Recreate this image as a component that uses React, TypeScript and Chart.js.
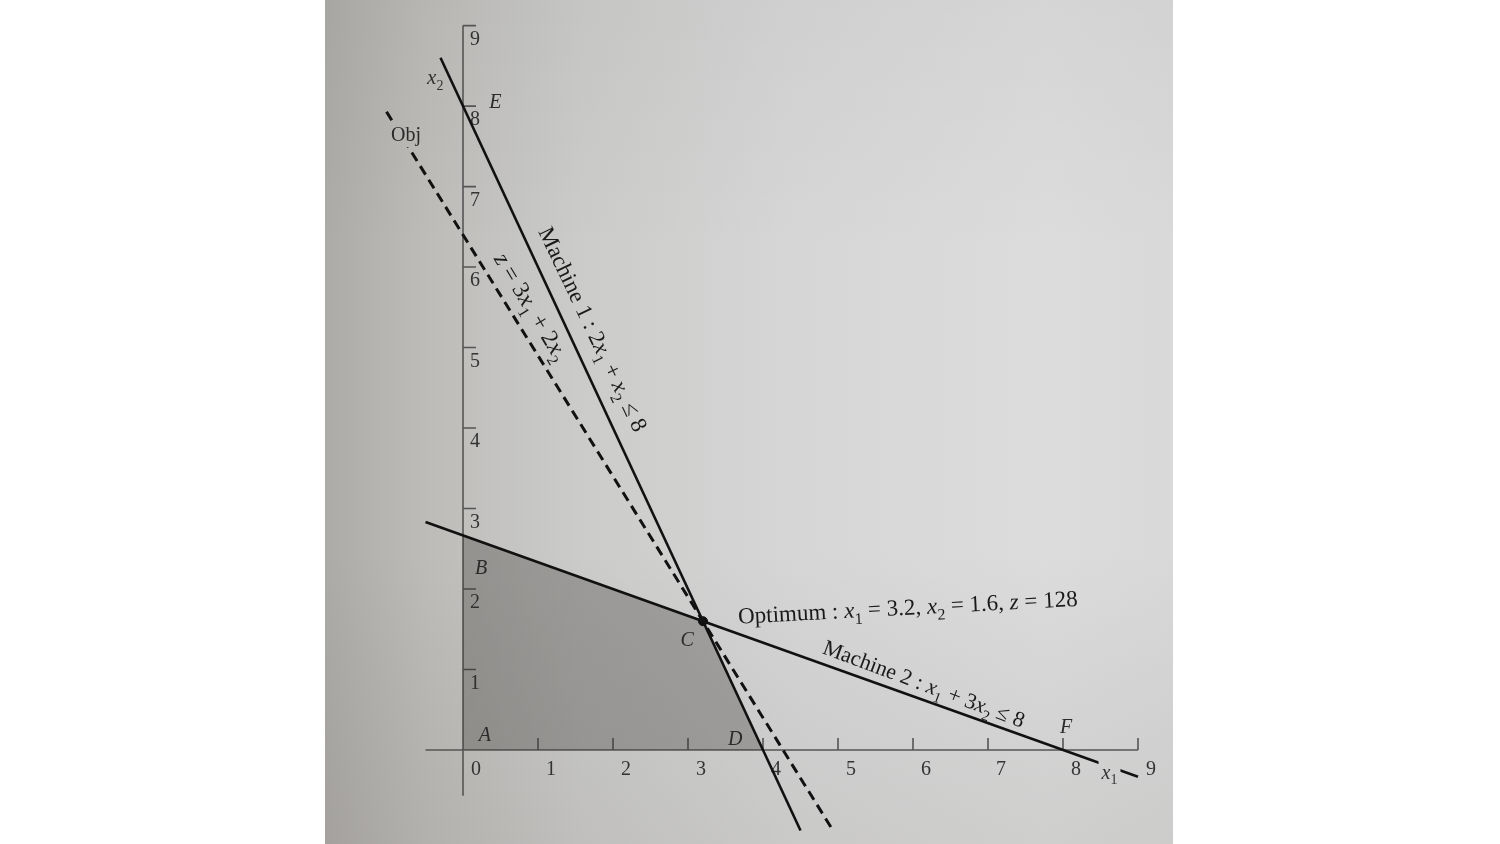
import React, { useEffect, useRef } from "react";
import { Chart, registerables } from "chart.js";

Chart.register(...registerables);

// ---- data ----
const xTickValues = [0, 1, 2, 3, 4, 5, 6, 7, 8, 9];
const xTickLabels = ["0", "1", "2", "3", "4", "5", "6", "7", "8", "9"];
const yTickValues = [1, 2, 3, 4, 5, 6, 7, 8, 9];
const yTickLabels = ["1", "2", "3", "4", "5", "6", "7", "8", "9"];

// Machine 1 : 2x1 + x2 <= 8
const machine1X = [-0.3, 4.5];
const machine1Y = [8.6, -1.0];
// Machine 2 : x1 + 3x2 <= 8
const machine2X = [-0.5, 9.0];
const machine2Y = [2.833, -0.333];
// Objective z = 3x1 + 2x2 through optimum
const objX = [-1.02, 4.92];
const objY = [7.93, -0.98];
// Feasible region A B C D
const regionX = [0, 0, 3.2, 4];
const regionY = [0, 2.667, 1.6, 0];
// Optimum point C
const optX = [3.2];
const optY = [1.6];

const zip = (xs: number[], ys: number[]) => xs.map((x, i) => ({ x, y: ys[i] }));

const SERIF = '"Liberation Serif", "DejaVu Serif", serif';

type Run = { t: string; i?: boolean; sub?: boolean };

let paperGradient: CanvasGradient | null = null;
let shadeGradient: CanvasGradient | null = null;

function drawRich(
  ctx: CanvasRenderingContext2D,
  runs: Run[],
  size: number,
  cx: number,
  cy: number,
  angleDeg: number,
  color: string,
  withBg?: boolean
) {
  const fontFor = (r: Run) => `${r.i ? "italic " : ""}${r.sub ? Math.round(size * 0.68) : size}px ${SERIF}`;
  let total = 0;
  const widths: number[] = [];
  runs.forEach((r) => {
    ctx.font = fontFor(r);
    const w = ctx.measureText(r.t).width;
    widths.push(w);
    total += w;
  });
  ctx.save();
  if (withBg && paperGradient) {
    const rx = cx - total / 2 - 3, ry = cy - size * 0.55, rw = total + 6, rh = size * 1.2;
    ctx.fillStyle = paperGradient;
    ctx.fillRect(rx, ry, rw, rh);
    if (shadeGradient) {
      ctx.fillStyle = shadeGradient;
      ctx.fillRect(rx, ry, rw, rh);
    }
  }
  ctx.translate(cx, cy);
  ctx.rotate((angleDeg * Math.PI) / 180);
  ctx.fillStyle = color;
  ctx.textBaseline = "alphabetic";
  ctx.textAlign = "left";
  let x = -total / 2;
  runs.forEach((r, k) => {
    ctx.font = fontFor(r);
    ctx.fillText(r.t, x, size * 0.35 + (r.sub ? size * 0.28 : 0));
    x += widths[k];
  });
  ctx.restore();
}

const paperPlugin = {
  id: "paper",
  beforeDraw(chart: any) {
    const ctx: CanvasRenderingContext2D = chart.ctx;
    ctx.save();
    ctx.fillStyle = "#ffffff";
    ctx.fillRect(0, 0, chart.width, chart.height);
    const g = ctx.createLinearGradient(325, 0, 1173, 0);
    g.addColorStop(0, "#adaba8");
    g.addColorStop(0.12, "#bdbcb9");
    g.addColorStop(0.3, "#cbcbca");
    g.addColorStop(0.55, "#d6d6d6");
    g.addColorStop(0.85, "#dcdcdc");
    g.addColorStop(1, "#d9d9d9");
    paperGradient = g;
    ctx.fillStyle = g;
    ctx.fillRect(325, 0, 1173 - 325, chart.height);
    const v = ctx.createLinearGradient(0, 0, 0, chart.height);
    v.addColorStop(0, "rgba(0,0,0,0.03)");
    v.addColorStop(0.3, "rgba(0,0,0,0)");
    v.addColorStop(0.65, "rgba(0,0,0,0)");
    v.addColorStop(1, "rgba(40,30,20,0.07)");
    shadeGradient = v;
    ctx.fillStyle = v;
    ctx.fillRect(325, 0, 1173 - 325, chart.height);
    ctx.restore();
  },
};

const axesPlugin = {
  id: "handAxes",
  beforeDatasetsDraw(chart: any) {
    const ctx: CanvasRenderingContext2D = chart.ctx;
    const xs = chart.scales.x;
    const ys = chart.scales.y;
    const x0 = xs.getPixelForValue(0);
    const y0 = ys.getPixelForValue(0);
    ctx.save();
    ctx.strokeStyle = "#555555";
    ctx.lineWidth = 1.6;
    ctx.beginPath();
    ctx.moveTo(xs.getPixelForValue(-0.5), y0);
    ctx.lineTo(xs.getPixelForValue(9), y0);
    ctx.moveTo(x0, ys.getPixelForValue(-0.57));
    ctx.lineTo(x0, ys.getPixelForValue(9));
    xTickValues.forEach((v) => {
      if (v === 0) return;
      const px = xs.getPixelForValue(v);
      ctx.moveTo(px, y0);
      ctx.lineTo(px, y0 - 12);
    });
    yTickValues.forEach((v) => {
      const py = ys.getPixelForValue(v);
      ctx.moveTo(x0, py);
      ctx.lineTo(x0 + 13, py);
    });
    ctx.stroke();

    ctx.fillStyle = "#333333";
    ctx.font = `20px ${SERIF}`;
    ctx.textAlign = "center";
    ctx.textBaseline = "middle";
    xTickValues.forEach((v, k) => {
      ctx.fillText(xTickLabels[k], xs.getPixelForValue(v) + 13, y0 + 20);
    });
    yTickValues.forEach((v, k) => {
      ctx.fillText(yTickLabels[k], x0 + 12, ys.getPixelForValue(v) + 14);
    });
    ctx.restore();
  },
  afterDatasetsDraw(chart: any) {
    const ctx: CanvasRenderingContext2D = chart.ctx;
    const xs = chart.scales.x;
    const ys = chart.scales.y;
    const P = (x: number, y: number) => [xs.getPixelForValue(x), ys.getPixelForValue(y)];
    const col = "#1a1a1a";

    let [px, py] = P(1.74, 5.23);
    drawRich(ctx, [
      { t: "Machine 1 : 2" }, { t: "x", i: true }, { t: "1", sub: true },
      { t: " + " }, { t: "x", i: true }, { t: "2", sub: true }, { t: " ≤ 8" },
    ], 23, px, py, 64.5, col);

    [px, py] = P(0.92, 5.51);
    drawRich(ctx, [
      { t: "z", i: true }, { t: " = 3" }, { t: "x", i: true }, { t: "1", sub: true },
      { t: " + 2" }, { t: "x", i: true }, { t: "2", sub: true },
    ], 24, px, py, 59, col);

    [px, py] = P(6.15, 0.83);
    drawRich(ctx, [
      { t: "Machine 2 : " }, { t: "x", i: true }, { t: "1", sub: true },
      { t: " + 3" }, { t: "x", i: true }, { t: "2", sub: true }, { t: " ≤ 8" },
    ], 22, px, py, 20.5, col);

    [px, py] = P(5.93, 1.78);
    drawRich(ctx, [
      { t: "Optimum : " }, { t: "x", i: true }, { t: "1", sub: true },
      { t: " = 3.2, " }, { t: "x", i: true }, { t: "2", sub: true },
      { t: " = 1.6, " }, { t: "z", i: true }, { t: " = 128" },
    ], 23, px, py, -3, col);

    [px, py] = P(-0.37, 8.37);
    drawRich(ctx, [{ t: "x", i: true }, { t: "2", sub: true }], 21, px, py, 0, "#333");

    [px, py] = P(8.62, -0.27);
    drawRich(ctx, [{ t: "x", i: true }, { t: "1", sub: true }], 20, px, py, 0, "#333", true);

    [px, py] = P(-0.76, 7.65);
    drawRich(ctx, [{ t: "Obj" }], 20, px, py, 0, "#2a2a2a", true);

    const letters: [string, number, number][] = [
      ["E", 0.43, 8.06],
      ["B", 0.24, 2.27],
      ["A", 0.29, 0.2],
      ["C", 2.99, 1.38],
      ["D", 3.63, 0.15],
      ["F", 8.04, 0.3],
    ];
    letters.forEach(([t, x, y]) => {
      const [lx, ly] = P(x, y);
      drawRich(ctx, [{ t, i: true }], 20, lx, ly, 0, "#2a2a2a");
    });
  },
};

export default function App() {
  const ref = useRef<HTMLCanvasElement | null>(null);
  useEffect(() => {
    if (!ref.current) return;
    const chart = new Chart(ref.current, {
      type: "line",
      data: {
        datasets: [
          {
            label: "Optimum",
            data: zip(optX, optY),
            showLine: false,
            pointRadius: 4.5,
            pointBackgroundColor: "#111",
            pointBorderColor: "#111",
            order: 0,
          },
          {
            label: "Machine 1",
            data: zip(machine1X, machine1Y),
            borderColor: "#111111",
            borderWidth: 2.6,
            pointRadius: 0,
            fill: false,
            order: 1,
          },
          {
            label: "Machine 2",
            data: zip(machine2X, machine2Y),
            borderColor: "#111111",
            borderWidth: 2.6,
            pointRadius: 0,
            fill: false,
            order: 1,
          },
          {
            label: "Obj",
            data: zip(objX, objY),
            borderColor: "#111111",
            borderWidth: 3,
            borderDash: [10, 6],
            pointRadius: 0,
            fill: false,
            order: 2,
          },
          {
            label: "Feasible region",
            data: zip(regionX, regionY),
            borderWidth: 0,
            borderColor: "rgba(0,0,0,0)",
            backgroundColor: "rgba(45,42,40,0.30)",
            pointRadius: 0,
            fill: "origin",
            order: 3,
          },
        ],
      },
      options: {
        animation: false,
        responsive: false,
        maintainAspectRatio: false,
        layout: { padding: { left: 350.5, right: 324.5, top: 3.7, bottom: 3 } },
        plugins: { legend: { display: false }, tooltip: { enabled: false } },
        elements: { line: { tension: 0 } },
        scales: {
          x: { type: "linear", min: -1.5, max: 9.5, display: false },
          y: { type: "linear", min: -1.1, max: 9.25, display: false },
        },
      },
      plugins: [paperPlugin, axesPlugin],
    });
    return () => chart.destroy();
  }, []);
  return (
    <div style={{ position: "fixed", left: 0, top: 0, width: 1500, height: 844 }}>
      <canvas ref={ref} width={1500} height={844} />
    </div>
  );
}
